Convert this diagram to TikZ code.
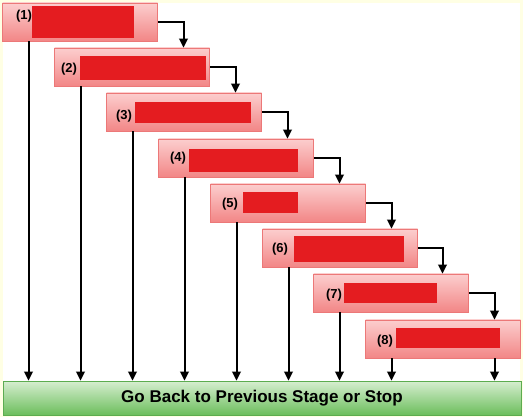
\documentclass[tikz,border=0pt]{standalone}
\usepackage{fontspec}
\setmainfont{Liberation Sans}
\usetikzlibrary{arrows.meta}
\definecolor{paper}{RGB}{255,255,228}
\definecolor{stagetop}{RGB}{252,206,206}
\definecolor{stagebottom}{RGB}{242,134,134}
\definecolor{stageline}{RGB}{236,120,120}
\definecolor{hidden}{RGB}{228,28,32}
\definecolor{bartop}{RGB}{214,238,208}
\definecolor{barbottom}{RGB}{108,190,92}
\definecolor{barline}{RGB}{92,172,80}
\tikzset {
    style stage/.style={
        top color=stagetop,
        bottom color=stagebottom,
        draw=stageline,
        line width=0.7pt,
        rectangle, % Set the shape as a rectangle
        minimum width=155pt,
        minimum height=38pt,
        inner sep=0pt,
    },
    style red/.style={
        fill=hidden,
        draw=none,
        rectangle, % Set the shape as a rectangle
        inner sep=0pt,
    },
    style num/.style={
        draw=none,
        inner sep=0pt,
        font=\fontsize{13}{15}\selectfont\bfseries,
    },
    style bar/.style={
        top color=bartop,
        bottom color=barbottom,
        draw=barline,
        line width=0.7pt,
        rectangle, % Set the shape as a rectangle
        minimum width=518pt,
        minimum height=34pt,
        inner sep=0pt,
        font=\fontsize{17}{20}\selectfont\bfseries,
    },
    style line/.style={
        draw=black,
        line width=2pt,
    },
}
\begin{document}
\begin{tikzpicture}
[x=1pt, y=-1pt, >={Triangle[length=9pt, width=8.5pt]}]
\fill[paper] (0,0) rectangle (523,417);
\fill[white] (3,3) rectangle (520,414);

\node[style stage] at (80, 22) (s1) {};
\node[style stage] at (132, 67) (s2) {};
\node[style stage] at (184, 112) (s3) {};
\node[style stage] at (236, 158) (s4) {};
\node[style stage] at (288, 203) (s5) {};
\node[style stage] at (340, 248) (s6) {};
\node[style stage] at (391, 293) (s7) {};
\node[style stage] at (443, 339) (s8) {};

\node[style red, minimum width=102pt, minimum height=32pt] at (83, 22) (r1) {};
\node[style red, minimum width=126pt, minimum height=24pt] at (143, 68) (r2) {};
\node[style red, minimum width=116pt, minimum height=21pt] at (193, 112.5) (r3) {};
\node[style red, minimum width=109pt, minimum height=23pt] at (243.5, 160.5) (r4) {};
\node[style red, minimum width=55pt, minimum height=21pt] at (270.5, 202.5) (r5) {};
\node[style red, minimum width=110pt, minimum height=26pt] at (349, 249) (r6) {};
\node[style red, minimum width=93pt, minimum height=20pt] at (390.5, 293) (r7) {};
\node[style red, minimum width=104pt, minimum height=20pt] at (448, 338) (r8) {};

\node[style num] at (24, 16.5) (n1) {(1)};
\node[style num] at (69, 69) (n2) {(2)};
\node[style num] at (124, 116) (n3) {(3)};
\node[style num] at (178, 158.5) (n4) {(4)};
\node[style num] at (230, 204) (n5) {(5)};
\node[style num] at (280, 249.5) (n6) {(6)};
\node[style num] at (334, 295) (n7) {(7)};
\node[style num] at (385, 341) (n8) {(8)};

\node[style bar] at (262, 398) (bar) {Go Back to Previous Stage or Stop};

\draw[style line, ->] (s1.east) -| ([xshift=51.5pt]s2.north);
\draw[style line, ->] (s2.east) -| ([xshift=51.5pt]s3.north);
\draw[style line, ->] (s3.east) -| ([xshift=51.5pt]s4.north);
\draw[style line, ->] (s4.east) -| ([xshift=51.5pt]s5.north);
\draw[style line, ->] (s5.east) -| ([xshift=51.5pt]s6.north);
\draw[style line, ->] (s6.east) -| ([xshift=51.5pt]s7.north);
\draw[style line, ->] (s7.east) -| ([xshift=51.5pt]s8.north);

\draw[style line, ->] ([xshift=-51.5pt]s1.south) -- ([xshift=-51.5pt]s1.south |- bar.north);
\draw[style line, ->] ([xshift=-51.5pt]s2.south) -- ([xshift=-51.5pt]s2.south |- bar.north);
\draw[style line, ->] ([xshift=-51.5pt]s3.south) -- ([xshift=-51.5pt]s3.south |- bar.north);
\draw[style line, ->] ([xshift=-51.5pt]s4.south) -- ([xshift=-51.5pt]s4.south |- bar.north);
\draw[style line, ->] ([xshift=-51.5pt]s5.south) -- ([xshift=-51.5pt]s5.south |- bar.north);
\draw[style line, ->] ([xshift=-51.5pt]s6.south) -- ([xshift=-51.5pt]s6.south |- bar.north);
\draw[style line, ->] ([xshift=-51.5pt]s7.south) -- ([xshift=-51.5pt]s7.south |- bar.north);
\draw[style line, ->] ([xshift=-51.5pt]s8.south) -- ([xshift=-51.5pt]s8.south |- bar.north);
\draw[style line, ->] ([xshift=51.5pt]s8.south) -- ([xshift=51.5pt]s8.south |- bar.north);
\end{tikzpicture}
\end{document}
